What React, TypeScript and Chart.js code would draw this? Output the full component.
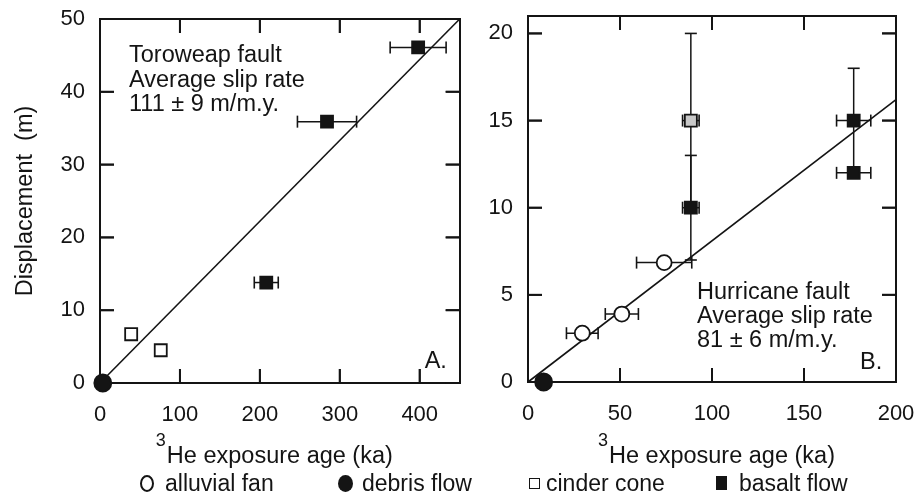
import React, { useEffect, useRef } from 'react';
import { Chart, registerables } from 'chart.js';

Chart.register(...registerables);

const INK = '#141414';
const FONT = '"Liberation Sans", Arial, Helvetica, sans-serif';

// ---------- Panel A: Toroweap fault ----------
const toroAgeRange = [0, 450];
const toroDispRange = [0, 50];
const toroAgeTicks = [0, 100, 200, 300, 400];
const toroDispTicks = [0, 10, 20, 30, 40, 50];
const toroDebrisAge = [3.5];
const toroDebrisDisp = [0];
const toroCinderAge = [39, 76];
const toroCinderDisp = [6.7, 4.5];
const toroBasaltAge = [208, 284, 398];
const toroBasaltDisp = [13.8, 35.9, 46.1];
const toroBasaltAgeErr = [15, 37, 35];
const toroFitAge = [0, 450];
const toroFitDisp = [0, 50];
const toroNotes = ['Toroweap fault', 'Average slip rate', '111 \u00b1 9 m/m.y.'];

// ---------- Panel B: Hurricane fault ----------
const hurrAgeRange = [0, 200];
const hurrDispRange = [0, 21];
const hurrAgeTicks = [0, 50, 100, 150, 200];
const hurrDispTicks = [0, 5, 10, 15, 20];
const hurrDebrisAge = [8.5];
const hurrDebrisDisp = [0];
const hurrAlluvialAge = [29.5, 51, 74];
const hurrAlluvialDisp = [2.8, 3.9, 6.85];
const hurrAlluvialAgeErr = [8.6, 9, 15];
const hurrCinderAge = [88.5];
const hurrCinderDisp = [15];
const hurrCinderAgeErr = [4.5];
const hurrCinderDispErrLow = [5];
const hurrCinderDispErrHigh = [5];
const hurrBasaltAge = [88.5, 177, 177];
const hurrBasaltDisp = [10, 15, 12];
const hurrBasaltAgeErr = [4.5, 9.3, 9.3];
const hurrBasaltDispErr = [3, 3, 0];
const hurrFitAge = [0, 200];
const hurrFitDisp = [0, 16.2];
const hurrNotes = ['Hurricane fault', 'Average slip rate', '81 \u00b1 6 m/m.y.'];

// ---------- shared text ----------
const yAxisTitle = 'Displacement  (m)';
const xAxisTitleSup = '3';
const xAxisTitleMain = 'He exposure age (ka)';
const legendLabels = ['alluvial fan', 'debris flow', 'cinder cone', 'basalt flow'];

const pts = (xs: number[], ys: number[]) => xs.map((x, i) => ({ x, y: ys[i] }));

const errStyle = (rot: number) => ({
  showLine: true,
  borderColor: INK,
  borderWidth: 1.5,
  pointStyle: 'line',
  pointRotation: rot,
  pointRadius: 6,
  pointBorderColor: INK,
  pointBorderWidth: 1.6,
  clip: false,
});

function xErrorBars(xs: number[], ys: number[], errs: number[]) {
  const out: any[] = [];
  xs.forEach((x, i) => {
    if (errs[i] > 0) {
      out.push({ ...errStyle(90), data: [{ x: x - errs[i], y: ys[i] }, { x: x + errs[i], y: ys[i] }] });
    }
  });
  return out;
}

function yErrorBars(xs: number[], ys: number[], lo: number[], hi: number[]) {
  const out: any[] = [];
  xs.forEach((x, i) => {
    if (lo[i] > 0 || hi[i] > 0) {
      out.push({ ...errStyle(0), data: [{ x, y: ys[i] - lo[i] }, { x, y: ys[i] + hi[i] }] });
    }
  });
  return out;
}

const marker = (style: string, fill: string, radius: number) => ({
  pointStyle: style,
  pointRadius: radius,
  pointBackgroundColor: fill,
  pointBorderColor: INK,
  pointBorderWidth: 1.8,
  showLine: false,
  clip: false,
});

const fitLine = (xs: number[], ys: number[]) => ({
  data: pts(xs, ys),
  showLine: true,
  borderColor: INK,
  borderWidth: 1.6,
  pointRadius: 0,
  clip: false,
});

// one-sided tick glyph: a 14px bar running from the point's centre towards +x
function makeTickGlyph(): HTMLCanvasElement {
  const c = document.createElement('canvas');
  c.width = 32;
  c.height = 32;
  const g = c.getContext('2d') as CanvasRenderingContext2D;
  g.fillStyle = INK;
  g.fillRect(16, 15, 14, 2);
  return c;
}

// inward tick marks drawn as point datasets sitting on the four frame edges
function tickDatasets(xTicks: number[], yTicks: number[], xRange: number[], yRange: number[], glyph: HTMLCanvasElement) {
  const base = { showLine: false, pointStyle: glyph, pointRadius: 7, clip: false };
  return [
    { ...base, pointRotation: -90, data: xTicks.map((v) => ({ x: v, y: yRange[0] })) },
    { ...base, pointRotation: 90, data: xTicks.map((v) => ({ x: v, y: yRange[1] })) },
    { ...base, pointRotation: 0, data: yTicks.map((v) => ({ x: xRange[0], y: v })) },
    { ...base, pointRotation: 180, data: yTicks.map((v) => ({ x: xRange[1], y: v })) },
  ];
}

function fixedTicks(values: number[]) {
  return (scale: any) => {
    scale.ticks = values.map((v) => ({ value: v }));
  };
}

function zeroPad(s: any) {
  s.paddingLeft = 0;
  s.paddingRight = 0;
  s.paddingTop = 0;
  s.paddingBottom = 0;
}

function makeScales(o: any) {
  const grid = () => ({ display: false, drawOnChartArea: false, drawTicks: false, tickLength: 0 });
  const border = () => ({ display: true, color: INK, width: 2 });
  const tickFont = () => ({ family: FONT, size: 22 });
  return {
    x: {
      type: 'linear', position: 'bottom', min: o.xRange[0], max: o.xRange[1], bounds: 'data',
      grid: grid(), border: border(),
      afterBuildTicks: fixedTicks(o.xTicks),
      ticks: { font: tickFont(), color: INK, padding: 19, autoSkip: false, maxRotation: 0 },
      afterFit: (s: any) => { s.height = o.xHeight; zeroPad(s); },
    },
    xTop: {
      type: 'linear', position: 'top', min: o.xRange[0], max: o.xRange[1], bounds: 'data',
      grid: grid(), border: border(),
      afterBuildTicks: fixedTicks(o.xTicks),
      ticks: { display: false },
      afterFit: (s: any) => { s.height = 0; zeroPad(s); },
    },
    y: {
      type: 'linear', position: 'left', min: o.yRange[0], max: o.yRange[1], bounds: 'data',
      grid: grid(), border: border(),
      afterBuildTicks: fixedTicks(o.yTicks),
      ticks: { font: tickFont(), color: INK, padding: 15, autoSkip: false },
      title: {
        display: !!o.yTitle, text: o.yTitle || '', color: INK,
        font: { family: FONT, size: 23.5 }, padding: { top: 11, bottom: 0 },
      },
      afterFit: (s: any) => { s.width = o.yWidth; zeroPad(s); },
    },
    yRight: {
      type: 'linear', position: 'right', min: o.yRange[0], max: o.yRange[1], bounds: 'data',
      grid: grid(), border: border(),
      afterBuildTicks: fixedTicks(o.yTicks),
      ticks: { display: false },
      afterFit: (s: any) => { s.width = 0; zeroPad(s); },
    },
  };
}

// x title with raised "3", in-plot notes, plus inward ticks via the scales
function makeDecorPlugin(cfg: any) {
  return {
    id: 'decor',
    afterDraw(chart: any) {
      const { ctx, chartArea } = chart;
      const { left, right, top, bottom } = chartArea;
      ctx.save();
      ctx.fillStyle = INK;
      const xScale = chart.scales.x;
      const yScale = chart.scales.y;
      const len = 14;
      const w = 1.8;
      cfg.xTicks.forEach((v: number) => {
        const p = xScale.getPixelForValue(v);
        if (!isFinite(p)) return;
        ctx.fillRect(p - w / 2, bottom - len, w, len);
        ctx.fillRect(p - w / 2, top, w, len);
      });
      cfg.yTicks.forEach((v: number) => {
        const p = yScale.getPixelForValue(v);
        if (!isFinite(p)) return;
        ctx.fillRect(left, p - w / 2, len, w);
        ctx.fillRect(right - len, p - w / 2, len, w);
      });

      ctx.textBaseline = 'alphabetic';
      ctx.textAlign = 'left';
      ctx.font = `18px ${FONT}`;
      const wSup = ctx.measureText(xAxisTitleSup).width;
      ctx.font = `23.5px ${FONT}`;
      const wMain = ctx.measureText(xAxisTitleMain).width;
      const total = wSup + 1 + wMain;
      const x0 = (left + right) / 2 + cfg.titleDx - total / 2;
      ctx.font = `18px ${FONT}`;
      ctx.fillText(xAxisTitleSup, x0, bottom + cfg.supY);
      ctx.font = `23.5px ${FONT}`;
      ctx.fillText(xAxisTitleMain, x0 + wSup + 1, bottom + cfg.mainY);

      cfg.lines.forEach((t: string, i: number) => {
        ctx.fillText(t, left + cfg.noteX, top + cfg.noteY + i * cfg.noteGap);
      });
      ctx.fillText(cfg.corner, right - cfg.cornerDx, bottom - cfg.cornerDy);
      ctx.restore();
    },
  };
}

function buildConfigA(glyph: HTMLCanvasElement): any {
  return {
    type: 'scatter',
    data: {
      datasets: [
        { data: pts(toroDebrisAge, toroDebrisDisp), ...marker('circle', INK, 8.5) },
        { data: pts(toroCinderAge, toroCinderDisp), ...marker('rect', '#ffffff', 8.5) },
        { data: pts(toroBasaltAge, toroBasaltDisp), ...marker('rect', INK, 8.5) },
        ...xErrorBars(toroBasaltAge, toroBasaltDisp, toroBasaltAgeErr),
        fitLine(toroFitAge, toroFitDisp),
        ...tickDatasets(toroAgeTicks, toroDispTicks, toroAgeRange, toroDispRange, glyph),
      ],
    },
    options: {
      responsive: false,
      animation: false,
      events: [],
      layout: { padding: { top: 19, right: 5, left: 0, bottom: 0 } },
      plugins: { legend: { display: false }, tooltip: { enabled: false } },
      scales: makeScales({
        xRange: toroAgeRange, yRange: toroDispRange,
        xTicks: toroAgeTicks, yTicks: toroDispTicks,
        yWidth: 100, xHeight: 92, yTitle: yAxisTitle,
      }),
    },
    plugins: [
      makeDecorPlugin({
        xTicks: toroAgeTicks, yTicks: toroDispTicks,
        titleDx: -5.5, supY: 63, mainY: 80,
        lines: toroNotes, noteX: 29, noteY: 43, noteGap: 24.5,
        corner: 'A.', cornerDx: 35, cornerDy: 15,
      }),
    ],
  };
}

function buildConfigB(glyph: HTMLCanvasElement): any {
  return {
    type: 'scatter',
    data: {
      datasets: [
        { data: pts(hurrDebrisAge, hurrDebrisDisp), ...marker('circle', INK, 8.5) },
        { data: pts(hurrAlluvialAge, hurrAlluvialDisp), ...marker('circle', '#ffffff', 7.5) },
        { data: pts(hurrCinderAge, hurrCinderDisp), ...marker('rect', '#c9c9c9', 8.5) },
        { data: pts(hurrBasaltAge, hurrBasaltDisp), ...marker('rect', INK, 8.5) },
        ...xErrorBars(hurrAlluvialAge, hurrAlluvialDisp, hurrAlluvialAgeErr),
        ...xErrorBars(hurrCinderAge, hurrCinderDisp, hurrCinderAgeErr),
        ...yErrorBars(hurrCinderAge, hurrCinderDisp, hurrCinderDispErrLow, hurrCinderDispErrHigh),
        ...xErrorBars(hurrBasaltAge, hurrBasaltDisp, hurrBasaltAgeErr),
        ...yErrorBars(hurrBasaltAge, hurrBasaltDisp, hurrBasaltDispErr, hurrBasaltDispErr),
        fitLine(hurrFitAge, hurrFitDisp),
        ...tickDatasets(hurrAgeTicks, hurrDispTicks, hurrAgeRange, hurrDispRange, glyph),
      ],
    },
    options: {
      responsive: false,
      animation: false,
      events: [],
      layout: { padding: { top: 16, right: 18, left: 0, bottom: 0 } },
      plugins: { legend: { display: false }, tooltip: { enabled: false } },
      scales: makeScales({
        xRange: hurrAgeRange, yRange: hurrDispRange,
        xTicks: hurrAgeTicks, yTicks: hurrDispTicks,
        yWidth: 58, xHeight: 93, yTitle: '',
      }),
    },
    plugins: [
      makeDecorPlugin({
        xTicks: hurrAgeTicks, yTicks: hurrDispTicks,
        titleDx: 4.5, supY: 64, mainY: 81,
        lines: hurrNotes, noteX: 169, noteY: 283, noteGap: 24,
        corner: 'B.', cornerDx: 36, cornerDy: 13,
      }),
    ],
  };
}

const legendMarkers: any[] = [
  { left: 140, top: 475, width: 14, height: 17, border: `2px solid ${INK}`, borderRadius: '50%', background: '#fff' },
  { left: 338, top: 475, width: 15, height: 17, border: 'none', borderRadius: '50%', background: INK },
  { left: 529, top: 478, width: 11, height: 11, border: `1.5px solid ${INK}`, borderRadius: 0, background: '#fff' },
  { left: 716, top: 476, width: 11, height: 14, border: 'none', borderRadius: 0, background: INK },
];
const legendTextLeft = [165, 362, 546, 739];

export default function App() {
  const refA = useRef<HTMLCanvasElement>(null);
  const refB = useRef<HTMLCanvasElement>(null);

  useEffect(() => {
    const glyph = makeTickGlyph();
    const a = new Chart(refA.current as HTMLCanvasElement, buildConfigA(glyph));
    const b = new Chart(refB.current as HTMLCanvasElement, buildConfigB(glyph));
    return () => {
      a.destroy();
      b.destroy();
    };
  }, []);

  return (
    <div
      style={{
        position: 'absolute', left: 0, top: 0, width: 914, height: 500,
        background: '#ffffff', overflow: 'hidden', fontFamily: FONT, color: INK,
      }}
    >
      <canvas ref={refA} width={470} height={475} style={{ position: 'absolute', left: 0, top: 0, width: 470, height: 475 }} />
      <canvas ref={refB} width={444} height={475} style={{ position: 'absolute', left: 470, top: 0, width: 444, height: 475 }} />
      {legendLabels.map((label, i) => (
        <React.Fragment key={label}>
          <div style={{ position: 'absolute', boxSizing: 'border-box', ...legendMarkers[i] }} />
          <div
            style={{
              position: 'absolute', left: legendTextLeft[i], top: 471,
              fontSize: 23, lineHeight: '24px', whiteSpace: 'nowrap',
            }}
          >
            {label}
          </div>
        </React.Fragment>
      ))}
    </div>
  );
}
